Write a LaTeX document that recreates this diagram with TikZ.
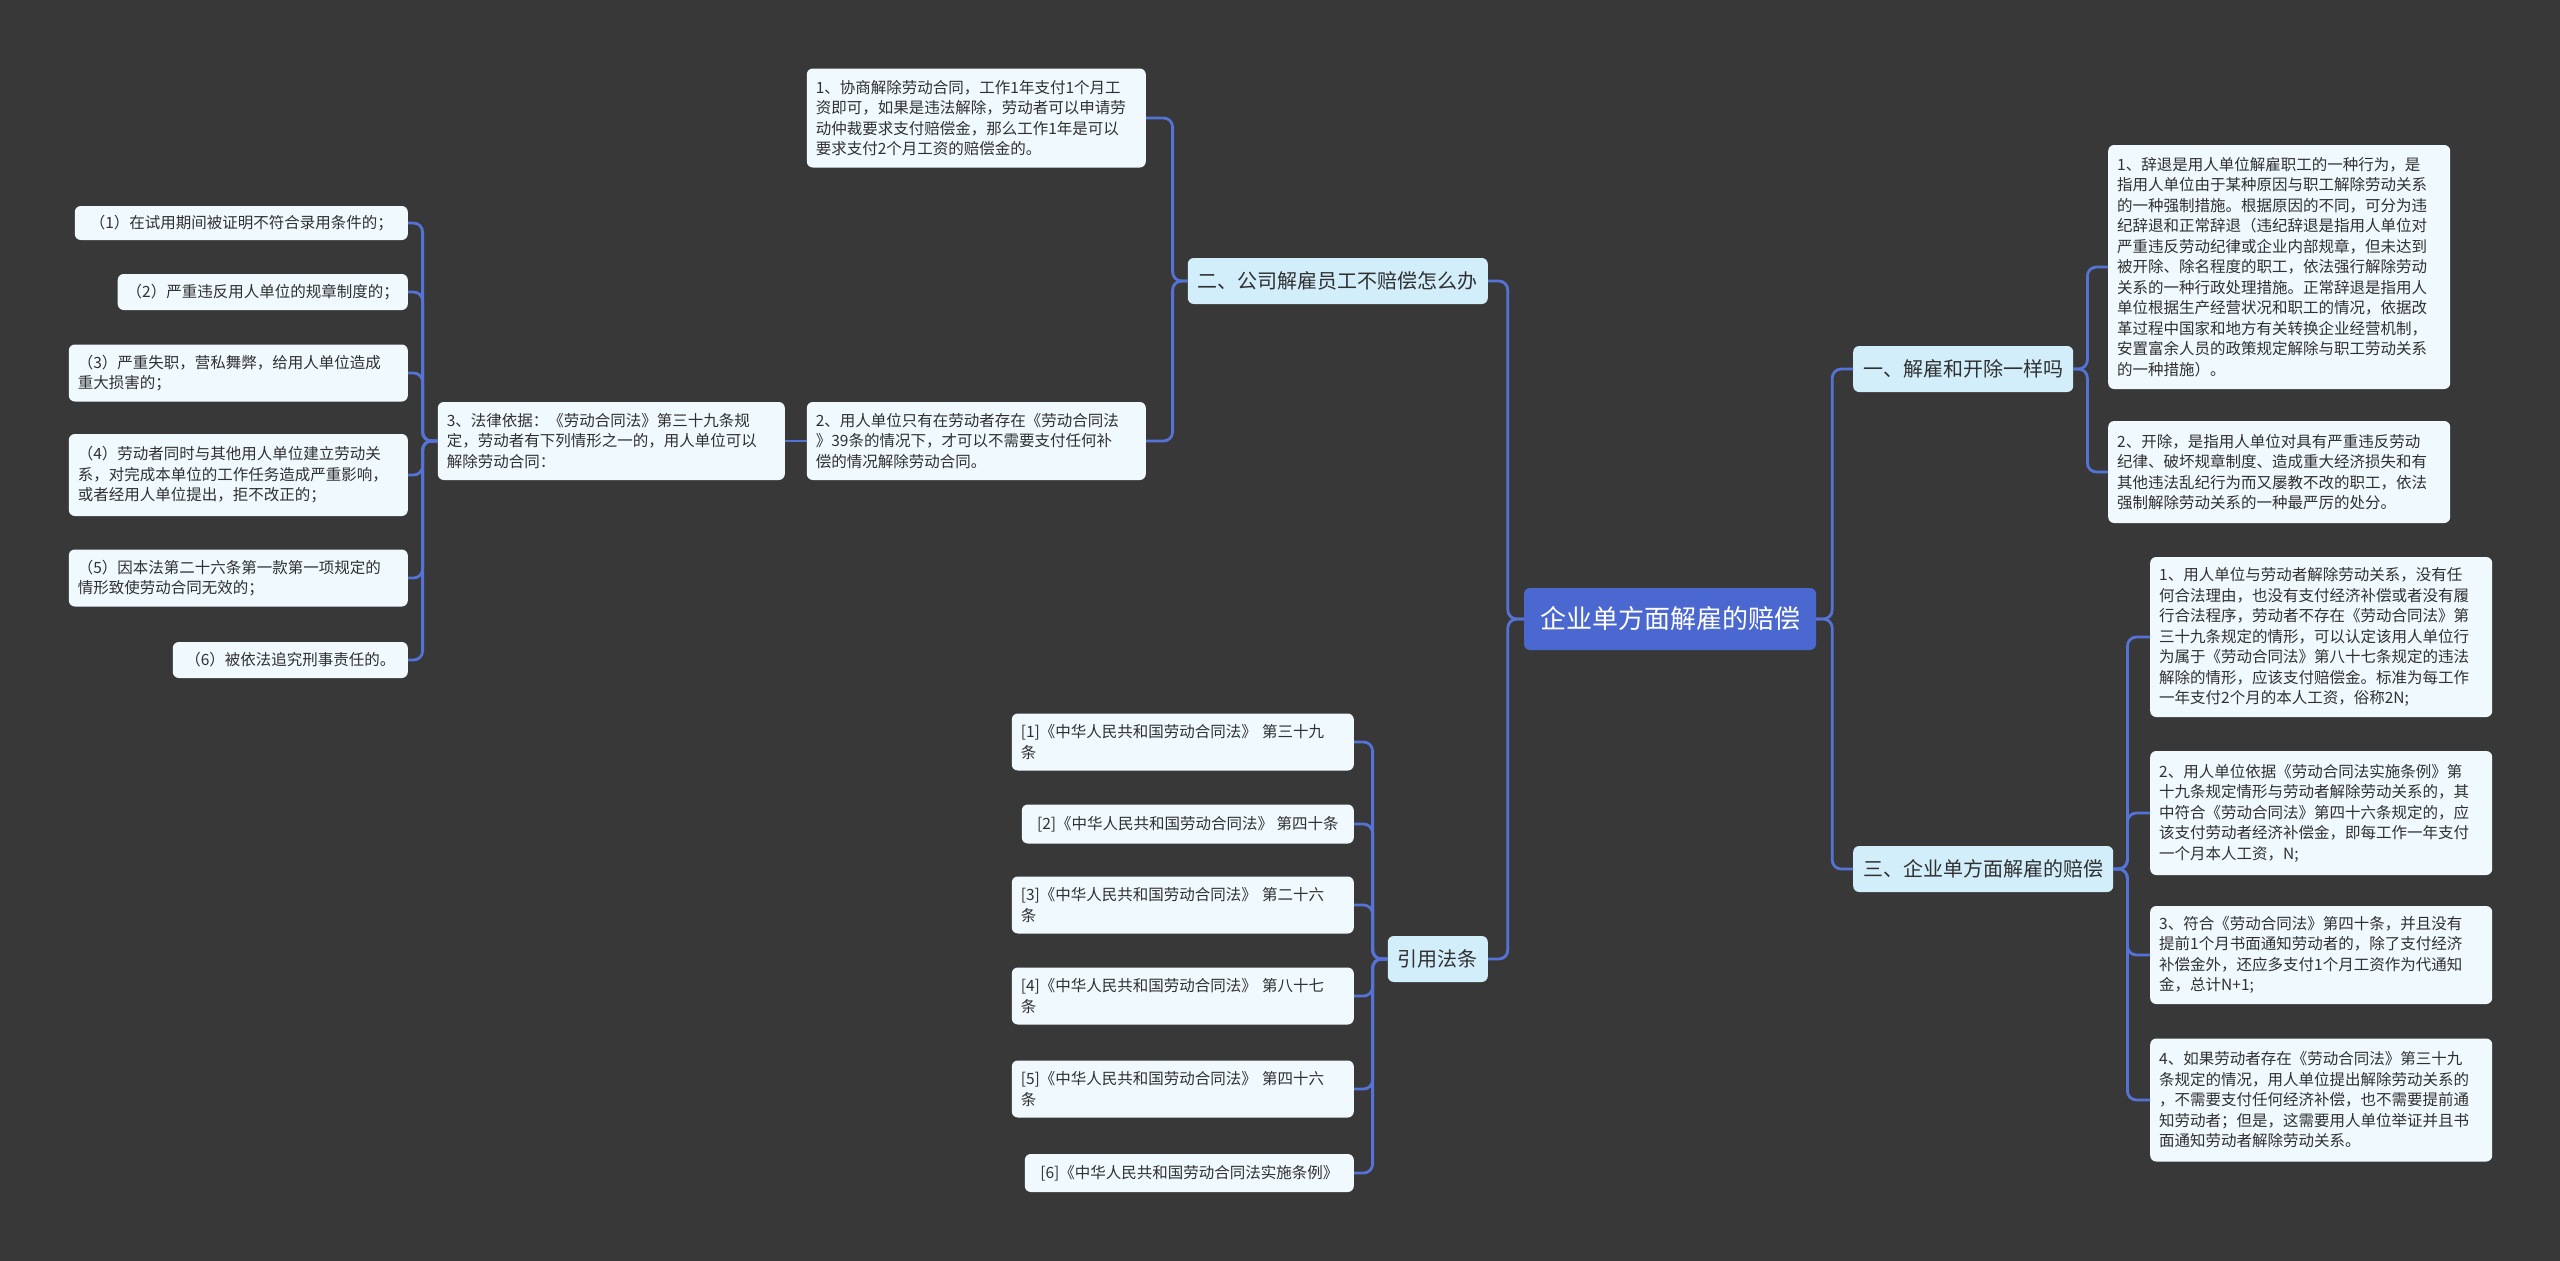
\documentclass[tikz,border=0pt]{standalone}
\usepackage{fontspec}
\setmainfont{Noto Sans CJK SC}
\definecolor{bg}{HTML}{383838}
\definecolor{leaf}{HTML}{F0F9FD}
\definecolor{lvl}{HTML}{D2EEFB}
\definecolor{rootc}{HTML}{4A68CF}
\definecolor{wire}{HTML}{5572D6}
\definecolor{txt}{HTML}{303030}
\tikzset{
  base/.style={rectangle,rounded corners=6pt,text=txt,inner ysep=6pt,align=left},
  leaf/.style={base,fill=leaf,font=\fontsize{15.5}{20.5}\selectfont,inner xsep=9pt},
  lvl/.style={base,fill=lvl,font=\fontsize{20}{24}\selectfont,inner xsep=10pt,minimum height=46pt},
  rootn/.style={base,fill=rootc,text=white,font=\fontsize{26}{30}\selectfont,inner xsep=16pt,minimum height=62pt},
  conn/.style={draw=wire,line width=2.8pt,rounded corners=9pt}
}
\begin{document}
\begin{tikzpicture}[x=1pt,y=-1pt]
\fill[bg] (0,0) rectangle (2560,1261);
\useasboundingbox (0,0) rectangle (2560,1261);

\node[rootn,anchor=center] (root) at (1670,619) {企业单方面解雇的赔偿};
\node[lvl,anchor=west] (a) at (1853,369) {一、解雇和开除一样吗};
\node[lvl,anchor=west] (c) at (1853,869) {三、企业单方面解雇的赔偿};
\node[lvl,anchor=east] (b) at (1488,281) {二、公司解雇员工不赔偿怎么办};
\node[lvl,anchor=east] (d) at (1488,959) {引用法条};

\node[leaf,anchor=west,text width=324pt,minimum height=244pt] (a1) at (2108,267) {1、辞退是用人单位解雇职工的一种行为，是\\指用人单位由于某种原因与职工解除劳动关系\\的一种强制措施。根据原因的不同，可分为违\\纪辞退和正常辞退（违纪辞退是指用人单位对\\严重违反劳动纪律或企业内部规章，但未达到\\被开除、除名程度的职工，依法强行解除劳动\\关系的一种行政处理措施。正常辞退是指用人\\单位根据生产经营状况和职工的情况，依据改\\革过程中国家和地方有关转换企业经营机制，\\安置富余人员的政策规定解除与职工劳动关系\\的一种措施）。};
\node[leaf,anchor=west,text width=324pt,minimum height=102pt] (a2) at (2108,472) {2、开除，是指用人单位对具有严重违反劳动\\纪律、破坏规章制度、造成重大经济损失和有\\其他违法乱纪行为而又屡教不改的职工，依法\\强制解除劳动关系的一种最严厉的处分。};

\node[leaf,anchor=west,text width=324pt,minimum height=160pt] (c1) at (2150,637) {1、用人单位与劳动者解除劳动关系，没有任\\何合法理由，也没有支付经济补偿或者没有履\\行合法程序，劳动者不存在《劳动合同法》第\\三十九条规定的情形，可以认定该用人单位行\\为属于《劳动合同法》第八十七条规定的违法\\解除的情形，应该支付赔偿金。标准为每工作\\一年支付2个月的本人工资，俗称2N;};
\node[leaf,anchor=west,text width=324pt,minimum height=124pt] (c2) at (2150,813) {2、用人单位依据《劳动合同法实施条例》第\\十九条规定情形与劳动者解除劳动关系的，其\\中符合《劳动合同法》第四十六条规定的，应\\该支付劳动者经济补偿金，即每工作一年支付\\一个月本人工资，N;};
\node[leaf,anchor=west,text width=324pt,minimum height=98pt] (c3) at (2150,955) {3、符合《劳动合同法》第四十条，并且没有\\提前1个月书面通知劳动者的，除了支付经济\\补偿金外，还应多支付1个月工资作为代通知\\金，总计N+1;};
\node[leaf,anchor=west,text width=324pt,minimum height=123pt] (c4) at (2150,1100) {4、如果劳动者存在《劳动合同法》第三十九\\条规定的情况，用人单位提出解除劳动关系的\\，不需要支付任何经济补偿，也不需要提前通\\知劳动者；但是，这需要用人单位举证并且书\\面通知劳动者解除劳动关系。};

\node[leaf,anchor=east,text width=321pt,minimum height=99pt] (b1) at (1146,118) {1、协商解除劳动合同，工作1年支付1个月工\\资即可，如果是违法解除，劳动者可以申请劳\\动仲裁要求支付赔偿金，那么工作1年是可以\\要求支付2个月工资的赔偿金的。};
\node[leaf,anchor=east,text width=321pt,minimum height=78pt] (b2) at (1146,441) {2、用人单位只有在劳动者存在《劳动合同法\\》39条的情况下，才可以不需要支付任何补\\偿的情况解除劳动合同。};
\node[leaf,anchor=east,text width=329pt,minimum height=78pt] (b3) at (785,441) {3、法律依据：《劳动合同法》第三十九条规\\定，劳动者有下列情形之一的，用人单位可以\\解除劳动合同：};

\node[leaf,anchor=east,minimum height=34pt,minimum width=333pt,align=right] (l1) at (408,223) {（1）在试用期间被证明不符合录用条件的；};
\node[leaf,anchor=east,minimum height=36pt,minimum width=281pt] (l2) at (408,292) {（2）严重违反用人单位的规章制度的；};
\node[leaf,anchor=east,text width=321pt,minimum height=57pt] (l3) at (408,373) {（3）严重失职，营私舞弊，给用人单位造成\\重大损害的；};
\node[leaf,anchor=east,text width=321pt,minimum height=82pt] (l4) at (408,475) {（4）劳动者同时与其他用人单位建立劳动关\\系，对完成本单位的工作任务造成严重影响，\\或者经用人单位提出，拒不改正的；};
\node[leaf,anchor=east,text width=321pt,minimum height=57pt] (l5) at (408,578) {（5）因本法第二十六条第一款第一项规定的\\情形致使劳动合同无效的；};
\node[leaf,anchor=east,minimum height=36pt,minimum width=235pt] (l6) at (408,660) {（6）被依法追究刑事责任的。};

\node[leaf,anchor=east,text width=324pt,minimum height=57pt] (d1) at (1354,742) {[1]《中华人民共和国劳动合同法》 第三十九\\条};
\node[leaf,anchor=east,minimum height=39pt,minimum width=332pt] (d2) at (1354,824) {[2]《中华人民共和国劳动合同法》 第四十条};
\node[leaf,anchor=east,text width=324pt,minimum height=57pt] (d3) at (1354,905) {[3]《中华人民共和国劳动合同法》 第二十六\\条};
\node[leaf,anchor=east,text width=324pt,minimum height=57pt] (d4) at (1354,996) {[4]《中华人民共和国劳动合同法》 第八十七\\条};
\node[leaf,anchor=east,text width=324pt,minimum height=57pt] (d5) at (1354,1089) {[5]《中华人民共和国劳动合同法》 第四十六\\条};
\node[leaf,anchor=east,minimum height=38pt,minimum width=329pt] (d6) at (1354,1173) {[6]《中华人民共和国劳动合同法实施条例》};

\foreach \t in {a,c} \draw[conn] (root.east) -- ++(16,0) |- (\t.west);
\foreach \t in {b,d} \draw[conn] (root.west) -- ++(-16,0) |- (\t.east);
\foreach \t in {a1,a2} \draw[conn] (a.east) -- ++(14,0) |- (\t.west);
\foreach \t in {c1,c2,c3,c4} \draw[conn] (c.east) -- ++(14,0) |- (\t.west);
\foreach \t in {b1,b2} \draw[conn] (b.west) -- ++(-15,0) |- (\t.east);
\draw[conn] (b2.west) -- (b3.east);
\foreach \t in {l1,l2,l3,l4,l5,l6} \draw[conn] (b3.west) -- ++(-15,0) |- (\t.east);
\foreach \t in {d1,d2,d3,d4,d5,d6} \draw[conn] (d.west) -- ++(-15,0) |- (\t.east);
\end{tikzpicture}
\end{document}
